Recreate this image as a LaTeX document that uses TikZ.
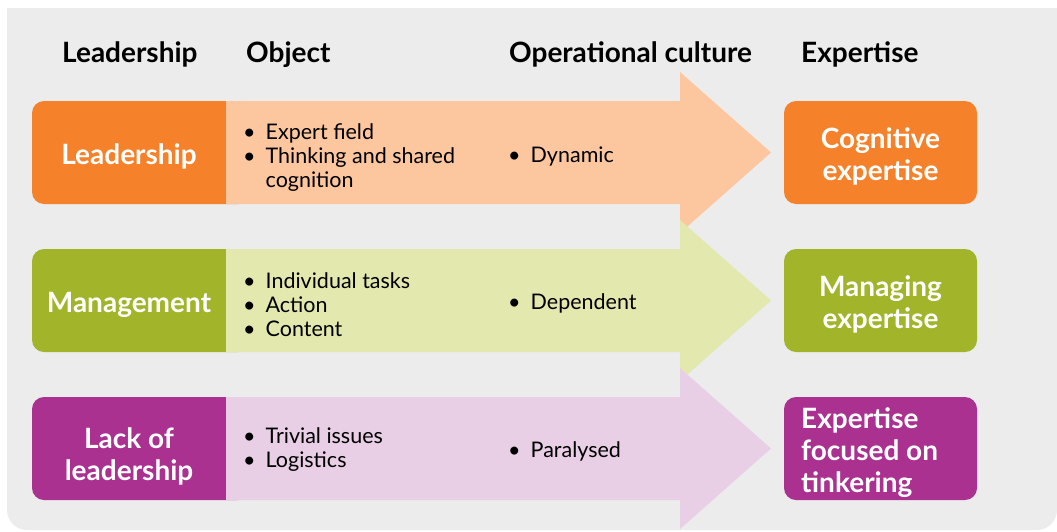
\documentclass[tikz,border=0pt]{standalone}
\usepackage{fontspec}
\setmainfont{Lato}
\definecolor{bg}{HTML}{ECECEC}
\definecolor{orgD}{HTML}{F5822A}
\definecolor{orgL}{HTML}{FCC79F}
\definecolor{grnD}{HTML}{A2B52A}
\definecolor{grnL}{HTML}{E2E8AE}
\definecolor{purD}{HTML}{AA318F}
\definecolor{purL}{HTML}{E8CFE5}
\tikzset{
  hdr/.style={anchor=base west, inner sep=0pt, font=\fontsize{28}{32}\selectfont\bfseries},
  boxtxt/.style={inner sep=0pt, text=white, align=center, yshift=-4pt, font=\fontsize{28}{32}\selectfont\bfseries},
  rbox/.style={minimum width=193pt, minimum height=103pt, rounded corners=12pt, inner sep=0pt},
  body/.style={anchor=base west, inner sep=0pt, font=\fontsize{21.5}{24}\selectfont},
}
\newcommand{\blist}[1]{\begin{tabular}[t]{@{}l@{\hspace{10pt}}l@{}}#1\end{tabular}}
\begin{document}
\begin{tikzpicture}[x=1pt,y=-1pt]
\useasboundingbox (0,0) rectangle (1057,531);
\fill[white] (0,0) rectangle (1057,531);
\fill[bg, rounded corners=20pt] (7,8) rectangle (1057,530);
\fill[bg] (7,8) rectangle (1057,100);

% headers
\node[hdr] (h1) at (62,62) {Leadership};
\node[hdr] (h2) at (246,62) {Object};
\node[hdr] (h3) at (509,62) {Operational culture};
\node[hdr] (h4) at (801,62) {Expertise};

% row 1
\fill[orgD, rounded corners=12pt] (32,101) rectangle (250,204);
\fill[orgL] (226,101) -- (680,101) -- (680,72) -- (771,152.5) -- (680,233) -- (680,204) -- (226,204) -- cycle;
\node[boxtxt] (l1) at (129,152.5) {Leadership};
\node[rbox, fill=orgD] (r1) at (880.5,152.5) {};
\node[boxtxt] (r1t) at (r1.center) {Cognitive\\expertise};
\node[body] (o1) at (243,139) {\blist{\textbullet & Expert field\\ \textbullet & Thinking and shared\\ & cognition}};
\node[body] (c1) at (508,162) {\blist{\textbullet & Dynamic}};

% row 2
\fill[grnD, rounded corners=12pt] (32,249) rectangle (250,352);
\fill[grnL] (226,249) -- (680,249) -- (680,220) -- (771,300.5) -- (680,381) -- (680,352) -- (226,352) -- cycle;
\node[boxtxt] (l2) at (129,300.5) {Management};
\node[rbox, fill=grnD] (r2) at (880.5,300.5) {};
\node[boxtxt] (r2t) at (r2.center) {Managing\\expertise};
\node[body] (o2) at (243,288) {\blist{\textbullet & Individual tasks\\ \textbullet & Action\\ \textbullet & Content}};
\node[body] (c2) at (508,309) {\blist{\textbullet & Dependent}};

% row 3
\fill[purD, rounded corners=12pt] (32,397) rectangle (250,500);
\fill[purL] (226,397) -- (680,397) -- (680,368) -- (771,448.5) -- (680,529) -- (680,500) -- (226,500) -- cycle;
\node[boxtxt] (l3) at (129,452) {Lack of\\leadership};
\node[rbox, fill=purD] (r3) at (880.5,448.5) {};
\node[boxtxt, align=left, anchor=west] (r3t) at (801,448.5) {Expertise\\focused on\\tinkering};
\node[body] (o3) at (243,443) {\blist{\textbullet & Trivial issues\\ \textbullet & Logistics}};
\node[body] (c3) at (508,457) {\blist{\textbullet & Paralysed}};
\end{tikzpicture}
\end{document}
